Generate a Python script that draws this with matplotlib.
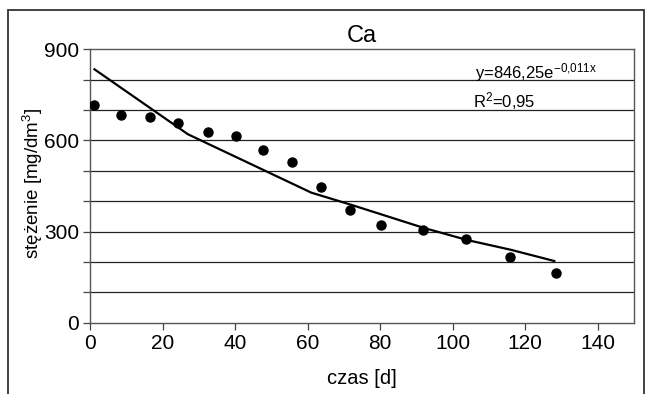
import numpy as np
import matplotlib
matplotlib.use('Agg')
import matplotlib.pyplot as plt
from matplotlib.patches import Rectangle

# measured points (time in days, Ca concentration in mg/dm3)
days = [1.2, 8.4, 16.6, 24.2, 32.6, 40.1, 47.7, 55.8, 63.6, 71.8, 80.1, 91.7, 103.6, 115.8, 128.4]
ca = [715, 683, 677, 657, 629, 615, 568, 529, 447, 370, 322, 306, 275, 216, 165]

# trend line vertices
trend_x = [1.2, 6.5, 27, 61, 72, 92, 104, 116, 128]
trend_y = [834, 790, 620, 428, 388, 312, 272, 240, 203]

x_ticks = [0, 20, 40, 60, 80, 100, 120, 140]
y_ticks = [0, 100, 200, 300, 400, 500, 600, 700, 800, 900]
y_labels = ['0', '', '', '300', '', '', '600', '', '', '900']

plt.rcParams['font.family'] = ['Liberation Sans', 'DejaVu Sans']
plt.rcParams['mathtext.default'] = 'regular'
plt.rcParams['axes.unicode_minus'] = False

fig = plt.figure(figsize=(6.53, 3.94), dpi=100)
ax = fig.add_axes([0.138, 0.181, 0.833, 0.694])

# outer frame
fig.patches.append(Rectangle((7.5 / 653, -0.1), (644 - 7.5) / 653, 1.1 - 10 / 394,
                             transform=fig.transFigure, fill=False,
                             edgecolor='#333333', lw=1.3))

for y in y_ticks[1:-1]:
    ax.axhline(y, color='#222222', lw=0.9, zorder=1)

ax.plot(trend_x, trend_y, color='black', lw=1.6, zorder=2)
ax.plot(days, ca, 'o', color='black', ms=6.5, zorder=3)

ax.set_xlim(0, 150)
ax.set_ylim(0, 900)
ax.set_xticks(x_ticks)
ax.set_yticks(y_ticks)
ax.set_yticklabels(y_labels)
ax.tick_params(direction='out', length=5, width=0.9, color='#444444',
               labelsize=15, pad=3)
for s in ax.spines.values():
    s.set_color('#555555')
    s.set_linewidth(1.0)

ax.set_title('Ca', fontsize=17, pad=5)
ax.set_xlabel('czas [d]', fontsize=14.5, labelpad=12)
ax.set_ylabel('stężenie [mg/dm$^3$]', fontsize=13.5)
ax.yaxis.set_label_coords(-0.083, 0.51)

ax.text(0.707, 0.915, 'y=846,25e$^{-0{,}011x}$', transform=ax.transAxes,
        fontsize=12, ha='left', va='center')
ax.text(0.703, 0.81, 'R$^2$=0,95', transform=ax.transAxes,
        fontsize=12, ha='left', va='center')

fig.savefig('out.png', dpi=100)
